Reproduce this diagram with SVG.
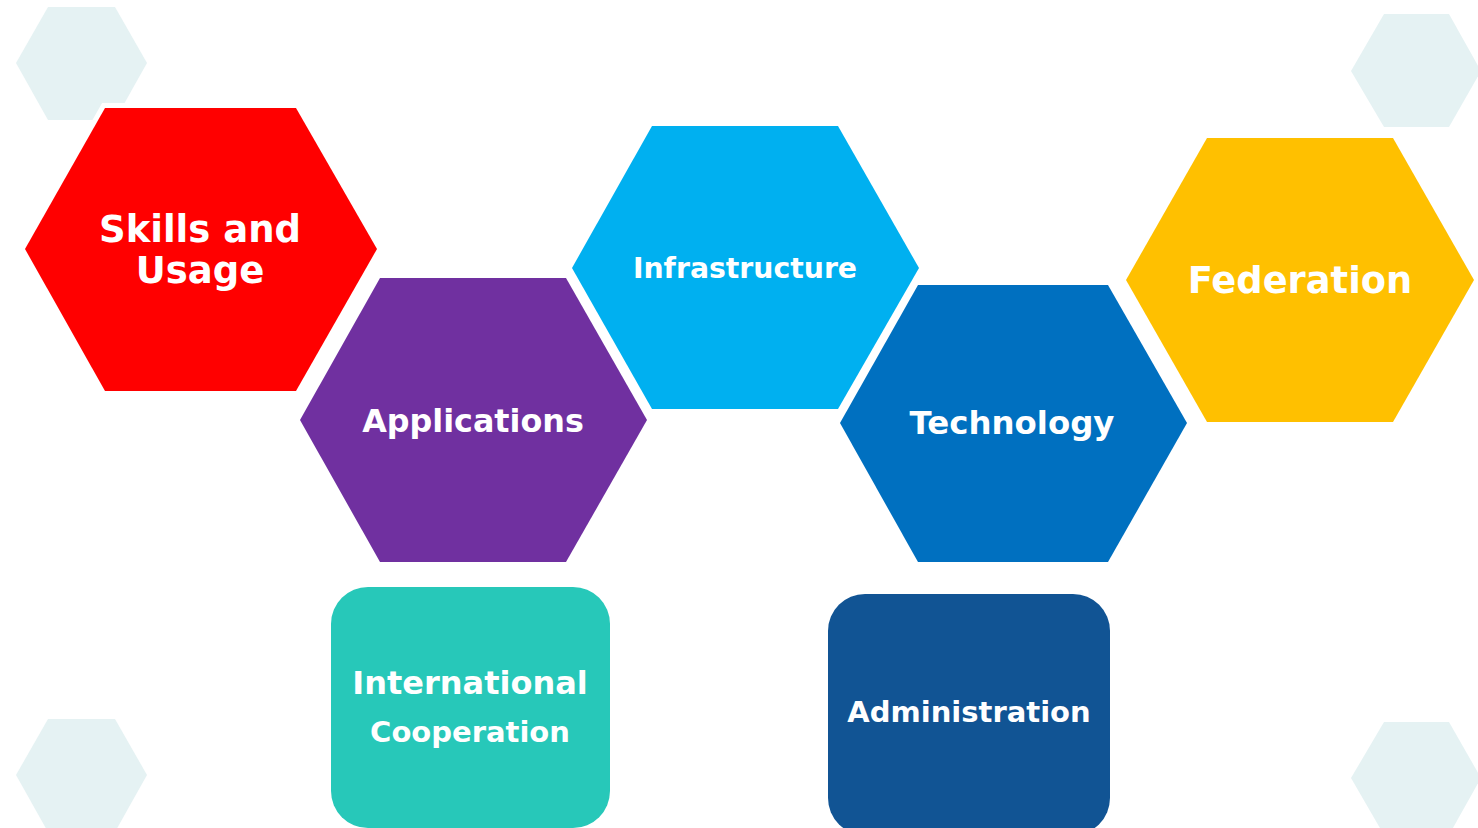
<svg xmlns="http://www.w3.org/2000/svg" width="1478" height="828" viewBox="0 0 1478 828">
<style>
.deco{fill:#E5F2F3}
.hex{stroke:#FFFFFF;stroke-width:10;stroke-linejoin:miter;paint-order:stroke}
.lbl{font-family:"DejaVu Sans","Verdana",sans-serif;font-weight:bold;fill:#FFFFFF;text-anchor:middle}
</style>
<rect width="1478" height="828" fill="#FFFFFF"/>
<g id="decorations">
<polygon class="deco" points="48,7 115,7 147,63 115,120 48,120 16,63"/>
<polygon class="deco" points="1384,14 1449,14 1481,71 1449,127 1384,127 1351,71"/>
<polygon class="deco" points="48,719 115,719 147,775 115,832 48,832 16,775"/>
<polygon class="deco" points="1384,722 1449,722 1481,778 1449,835 1384,835 1351,778"/>
</g>
<g id="skills">
<polygon class="hex" fill="#FF0000" points="105,108 296,108 377,249 296,391 105,391 25,249"/>
<text class="lbl" x="200" y="242" font-size="37">Skills and</text>
<text class="lbl" x="200" y="283" font-size="37">Usage</text>
</g>
<g id="applications">
<polygon class="hex" fill="#7030A0" points="380,278 566,278 647,420 566,562 380,562 300,420"/>
<text class="lbl" x="473" y="432" font-size="31.8">Applications</text>
</g>
<g id="infrastructure">
<polygon class="hex" fill="#00B0F0" points="652,126 838,126 919,268 838,409 652,409 572,268"/>
<text class="lbl" x="745" y="278" font-size="28.3">Infrastructure</text>
</g>
<g id="technology">
<polygon class="hex" fill="#0070C0" points="918,285 1108,285 1187,423 1108,562 918,562 840,423"/>
<text class="lbl" x="1012" y="434" font-size="32.4">Technology</text>
</g>
<g id="federation">
<polygon class="hex" fill="#FFC000" points="1207,138 1393,138 1474,280 1393,422 1207,422 1126,280"/>
<text class="lbl" x="1300" y="293" font-size="36.8">Federation</text>
</g>
<g id="international">
<rect x="331" y="587" width="279" height="241" rx="37" ry="37" fill="#27C8B9"/>
<text class="lbl" x="470" y="694" font-size="32">International</text>
<text class="lbl" x="470" y="742" font-size="29">Cooperation</text>
</g>
<g id="administration">
<rect x="828" y="594" width="282" height="241" rx="37" ry="37" fill="#115494"/>
<text class="lbl" x="969" y="722" font-size="29">Administration</text>
</g>
<g id="connectors"></g>
</svg>
